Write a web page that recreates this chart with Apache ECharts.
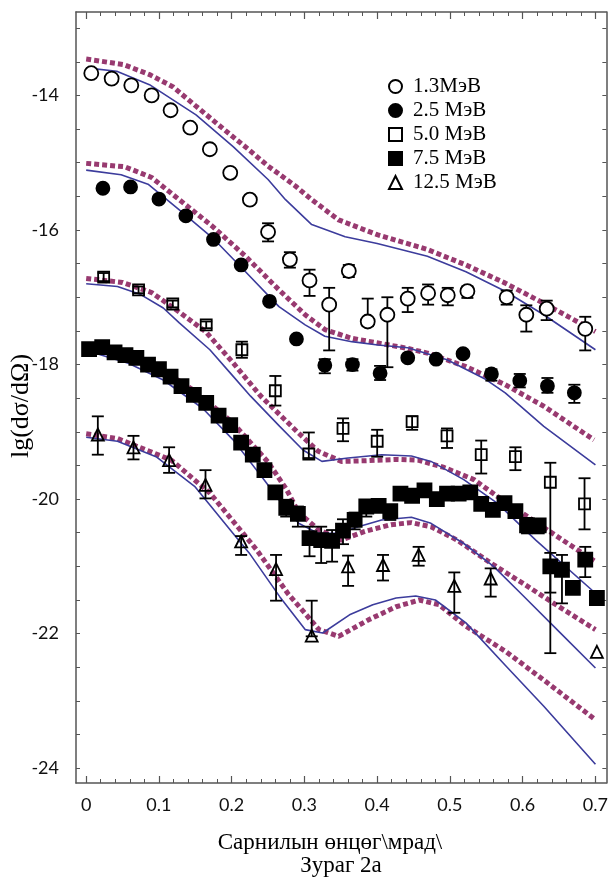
<!DOCTYPE html>
<html><head><meta charset="utf-8">
<script src="https://cdn.jsdelivr.net/npm/echarts@6/dist/echarts.min.js"></script>
<style>html,body{margin:0;padding:0;background:#fff}#c{width:611px;height:877px}</style>
</head><body><div id="c"></div>
<script>
// ---- axis ranges & tick labels ----
const X_MIN = -0.014, X_MAX = 0.715;
const Y_MIN = -24.22, Y_MAX = -12.76;
const xTickLabels = [0, 0.1, 0.2, 0.3, 0.4, 0.5, 0.6, 0.7];
const yTickLabels = [-24, -22, -20, -18, -16, -14];

// ---- legend names ----
const names = ['1.3МэВ', '2.5 МэВ', '5.0 МэВ', '7.5 МэВ', '12.5 МэВ'];

// ---- 1.3 MeV (open circles) ----
const x13 = [0.007,0.035,0.062,0.090,0.116,0.143,0.170,0.198,0.225,0.250,0.280,0.307,0.334,0.361,0.387,0.414,0.442,0.470,0.497,0.524,0.578,0.605,0.633,0.686];
const y13 = [-13.67,-13.75,-13.85,-14.00,-14.22,-14.48,-14.80,-15.15,-15.55,-16.03,-16.44,-16.75,-17.11,-16.61,-17.36,-17.26,-17.02,-16.94,-16.97,-16.91,-17.00,-17.26,-17.17,-17.47];
const hi13 = [-13.63,-13.71,-13.81,-13.96,-14.18,-14.44,-14.76,-15.11,-15.50,-15.90,-16.33,-16.59,-16.86,-16.52,-17.02,-17.00,-16.86,-16.81,-16.86,-16.84,-16.90,-17.12,-17.05,-17.29];
const lo13 = [-13.71,-13.79,-13.89,-14.04,-14.26,-14.52,-14.84,-15.19,-15.60,-16.17,-16.56,-16.98,-17.79,-16.70,-17.43,-18.04,-17.22,-17.11,-17.12,-17.01,-17.11,-17.51,-17.34,-17.79];

// ---- 2.5 MeV (filled circles) ----
const x25 = [0.023,0.061,0.100,0.137,0.175,0.213,0.252,0.289,0.328,0.366,0.404,0.442,0.481,0.518,0.557,0.596,0.634,0.671];
const y25 = [-15.38,-15.36,-15.54,-15.79,-16.14,-16.52,-17.06,-17.62,-18.01,-18.00,-18.13,-17.90,-17.92,-17.84,-18.14,-18.24,-18.32,-18.42];
const hi25 = [null,null,null,null,null,null,null,null,-17.92,-17.92,-18.02,null,null,null,-18.07,-18.14,-18.20,-18.30];
const lo25 = [null,null,null,null,null,null,null,null,-18.13,-18.09,-18.23,null,null,null,-18.24,-18.34,-18.42,-18.57];

// ---- 5.0 MeV (open squares) ----
const x50 = [0.024,0.072,0.119,0.165,0.214,0.260,0.306,0.353,0.400,0.448,0.496,0.543,0.590,0.638,0.685];
const y50 = [-16.70,-16.89,-17.10,-17.41,-17.78,-18.39,-19.33,-18.95,-19.14,-18.85,-19.06,-19.34,-19.37,-19.75,-20.07];
const hi50 = [-16.64,-16.84,-17.05,-17.36,-17.66,-18.17,-19.01,-18.80,-18.97,-18.77,-18.95,-19.13,-19.23,-19.46,-19.69];
const lo50 = [-16.76,-16.94,-17.15,-17.46,-17.90,-18.61,-19.39,-19.14,-19.37,-18.97,-19.24,-19.62,-19.57,-22.29,-20.45];

// ---- 7.5 MeV (filled squares) ----
const x75 = [0.004,0.022,0.039,0.054,0.069,0.085,0.100,0.116,0.131,0.148,0.165,0.182,0.198,0.213,0.229,0.245,0.260,0.275,0.291,0.307,0.323,0.338,0.353,0.369,0.385,0.402,0.418,0.432,0.448,0.465,0.482,0.496,0.512,0.528,0.543,0.559,0.575,0.590,0.606,0.622,0.638,0.654,0.669,0.686,0.702];
const y75 = [-17.77,-17.74,-17.82,-17.86,-17.90,-18.00,-18.07,-18.18,-18.32,-18.45,-18.57,-18.76,-18.90,-19.16,-19.34,-19.57,-19.90,-20.13,-20.22,-20.58,-20.61,-20.62,-20.47,-20.31,-20.11,-20.10,-20.18,-19.92,-19.95,-19.87,-20.00,-19.92,-19.92,-19.90,-20.07,-20.16,-20.06,-20.18,-20.39,-20.39,-21.00,-21.05,-21.32,-20.90,-21.47];
const hi75 = [null,null,null,null,null,null,null,null,null,null,null,null,null,null,null,null,null,-20.01,-20.11,-20.41,-20.41,-20.46,-20.30,-20.20,-20.06,-20.04,-20.13,null,null,null,null,null,null,null,null,null,null,-20.11,-20.28,-20.31,-20.80,-20.83,-21.25,-20.71,null];
const lo75 = [null,null,null,null,null,null,null,null,null,null,null,null,null,null,null,null,null,-20.26,-20.41,-20.85,-20.95,-20.93,-20.67,-20.45,-20.26,-20.16,-20.31,null,null,null,null,null,null,null,null,null,null,-20.26,-20.51,-20.51,-21.39,-21.55,-21.40,-21.16,null];

// ---- 12.5 MeV (open triangles) ----
const x125 = [0.016,0.065,0.114,0.164,0.213,0.261,0.310,0.360,0.408,0.457,0.506,0.556,0.702];
const y125 = [-19.04,-19.23,-19.42,-19.79,-20.63,-21.04,-22.03,-21.00,-20.98,-20.83,-21.29,-21.18,-22.27];
const hi125 = [-18.77,-19.06,-19.23,-19.57,-20.55,-20.83,-21.51,-20.84,-20.83,-20.71,-21.09,-21.03,null];
const lo125 = [-19.34,-19.41,-19.61,-19.99,-20.83,-21.51,-22.04,-21.29,-21.21,-20.99,-21.69,-21.45,null];

// ---- theory curves: blue solid ----
const blueA_x = [0,0.042,0.087,0.151,0.202,0.25,0.274,0.310,0.356,0.40,0.469,0.522,0.576,0.629,0.700];
const blueA_y = [-13.59,-13.64,-13.84,-14.29,-14.76,-15.25,-15.55,-15.92,-16.10,-16.20,-16.39,-16.62,-16.91,-17.26,-17.78];
const blueB_x = [0,0.048,0.085,0.128,0.174,0.219,0.265,0.301,0.328,0.365,0.401,0.442,0.496,0.549,0.576,0.629,0.700];
const blueB_y = [-15.11,-15.18,-15.32,-15.70,-16.12,-16.62,-17.14,-17.41,-17.58,-17.66,-17.71,-17.75,-17.93,-18.22,-18.42,-18.92,-19.49];
const blueC_x = [0,0.043,0.075,0.106,0.128,0.170,0.200,0.226,0.266,0.298,0.324,0.360,0.406,0.447,0.474,0.519,0.565,0.618,0.700];
const blueC_y = [-16.80,-16.84,-16.96,-17.16,-17.38,-17.78,-18.15,-18.47,-18.92,-19.27,-19.44,-19.39,-19.34,-19.36,-19.44,-19.71,-20.06,-20.61,-21.40];
const blueD_x = [0,0.058,0.106,0.160,0.202,0.245,0.270,0.292,0.319,0.347,0.374,0.406,0.447,0.474,0.519,0.560,0.60,0.65,0.700];
const blueD_y = [-17.79,-17.98,-18.23,-18.65,-19.12,-19.72,-20.08,-20.36,-20.51,-20.51,-20.41,-20.31,-20.27,-20.36,-20.66,-21.00,-21.43,-21.97,-22.51];
const blueE_x = [0,0.043,0.096,0.149,0.202,0.224,0.266,0.301,0.325,0.362,0.394,0.426,0.453,0.480,0.522,0.576,0.629,0.700];
const blueE_y = [-19.08,-19.14,-19.37,-19.81,-20.51,-20.80,-21.45,-21.94,-21.99,-21.72,-21.57,-21.47,-21.44,-21.50,-21.84,-22.47,-23.08,-23.94];

// ---- theory curves: purple dashed ----
const purA_x = [0,0.051,0.087,0.119,0.151,0.20,0.224,0.25,0.288,0.310,0.347,0.40,0.469,0.522,0.576,0.629,0.700];
const purA_y = [-13.46,-13.54,-13.69,-13.87,-14.16,-14.60,-14.81,-15.05,-15.35,-15.55,-15.85,-16.07,-16.29,-16.52,-16.79,-17.09,-17.51];
const purB_x = [0,0.053,0.09,0.128,0.174,0.219,0.265,0.301,0.328,0.365,0.401,0.442,0.469,0.522,0.576,0.629,0.698];
const purB_y = [-15.01,-15.06,-15.22,-15.55,-15.95,-16.39,-16.89,-17.26,-17.48,-17.61,-17.68,-17.76,-17.83,-18.03,-18.30,-18.62,-19.12];
const purC_x = [0,0.05,0.09,0.128,0.165,0.20,0.24,0.292,0.319,0.351,0.383,0.428,0.456,0.492,0.533,0.565,0.655,0.700];
const purC_y = [-16.72,-16.78,-16.93,-17.22,-17.52,-17.95,-18.47,-19.02,-19.29,-19.44,-19.43,-19.41,-19.42,-19.53,-19.71,-19.96,-20.61,-20.93];
const purD_x = [0,0.05,0.10,0.15,0.20,0.25,0.275,0.292,0.319,0.351,0.383,0.419,0.447,0.474,0.510,0.556,0.60,0.65,0.700];
const purD_y = [-17.72,-17.82,-18.05,-18.40,-18.85,-19.45,-19.85,-20.20,-20.45,-20.61,-20.48,-20.38,-20.35,-20.41,-20.61,-20.95,-21.25,-21.60,-21.94];
const purE_x = [0,0.043,0.117,0.170,0.234,0.277,0.320,0.347,0.389,0.426,0.458,0.485,0.522,0.576,0.629,0.700];
const purE_y = [-19.03,-19.10,-19.42,-19.91,-20.75,-21.40,-21.94,-22.04,-21.79,-21.60,-21.50,-21.57,-21.89,-22.26,-22.69,-23.28];

// ---- build helpers ----
const xMinorTicks = []; for (let i = 0; i <= 35; i++) xMinorTicks.push(+(i * 0.02).toFixed(2));
const yMinorTicks = []; for (let v = -24; v <= -13; v += 0.5) yMinorTicks.push(v);
const pairs = (xs, ys) => xs.map((v, i) => [v, ys[i]]);

const BLUE = '#3c3c9c', PURPLE = '#983a70';
function curve(xs, ys, dashed) {
  return {
    type: 'line', data: pairs(xs, ys), symbol: 'none', silent: true, z: dashed ? 2 : 3,
    lineStyle: dashed ? { color: PURPLE, width: 5, type: [5, 3] } : { color: BLUE, width: 1.6 },
    xAxisIndex: 0, yAxisIndex: 0
  };
}
function errBars(xs, his, los) {
  const data = [];
  xs.forEach((v, i) => { if (his[i] != null) data.push([v, los[i], his[i]]); });
  return {
    type: 'custom', silent: true, z: 4, xAxisIndex: 0, yAxisIndex: 0,
    encode: { x: 0, y: [1, 2] }, data,
    renderItem: (params, api) => {
      const x = api.value(0);
      const a = api.coord([x, api.value(1)]);
      const b = api.coord([x, api.value(2)]);
      const w = 6, st = { stroke: '#000', lineWidth: 1.8 };
      return { type: 'group', children: [
        { type: 'line', shape: { x1: a[0], y1: a[1], x2: b[0], y2: b[1] }, style: st },
        { type: 'line', shape: { x1: a[0] - w, y1: a[1], x2: a[0] + w, y2: a[1] }, style: st },
        { type: 'line', shape: { x1: b[0] - w, y1: b[1], x2: b[0] + w, y2: b[1] }, style: st }
      ]};
    }
  };
}
function marks(name, xs, ys, symbol, size, fill, zz) {
  return {
    type: 'scatter', name, data: pairs(xs, ys), symbol, symbolSize: size, z: zz,
    itemStyle: { color: fill, borderColor: '#000', borderWidth: 1.8, opacity: 1 },
    emphasis: { disabled: true }, xAxisIndex: 0, yAxisIndex: 0
  };
}

const axCol = '#555';
const xBase = { type: 'value', min: X_MIN, max: X_MAX, splitLine: { show: false } };
const yBase = { type: 'value', min: Y_MIN, max: Y_MAX, splitLine: { show: false } };

const option = {
  animation: false,
  backgroundColor: '#fff',
  grid: { left: 76, right: 1, top: 12, bottom: 94, containLabel: false },
  xAxis: [
    Object.assign({}, xBase, { position: 'bottom',
      axisLine: { show: true, onZero: false, lineStyle: { color: axCol, width: 1.5 } },
      axisTick: { show: true, inside: true, length: 7, customValues: xTickLabels, lineStyle: { color: axCol, width: 1.2 } },
      axisLabel: { show: true, customValues: xTickLabels, margin: 13, fontFamily: 'Lato', fontSize: 18, color: '#111',
        formatter: v => (Math.abs(v) < 1e-9 ? '0' : String(+(+v).toFixed(1))) } }),
    Object.assign({}, xBase, { position: 'bottom',
      axisLine: { show: false, onZero: false },
      axisTick: { show: true, inside: true, length: 4, customValues: xMinorTicks, lineStyle: { color: axCol, width: 1 } },
      axisLabel: { show: false } }),
    Object.assign({}, xBase, { position: 'top',
      axisLine: { show: true, onZero: false, lineStyle: { color: axCol, width: 1.5 } },
      axisTick: { show: true, inside: true, length: 7, customValues: xTickLabels, lineStyle: { color: axCol, width: 1.2 } },
      axisLabel: { show: false } }),
    Object.assign({}, xBase, { position: 'top',
      axisLine: { show: false, onZero: false },
      axisTick: { show: true, inside: true, length: 4, customValues: xMinorTicks, lineStyle: { color: axCol, width: 1 } },
      axisLabel: { show: false } })
  ],
  yAxis: [
    Object.assign({}, yBase, { position: 'left',
      axisLine: { show: true, onZero: false, lineStyle: { color: axCol, width: 1.5 } },
      axisTick: { show: true, inside: true, length: 4, customValues: yMinorTicks, lineStyle: { color: axCol, width: 1 } },
      axisLabel: { show: true, customValues: yTickLabels, margin: 17, fontFamily: 'Lato', fontSize: 18, color: '#111',
        formatter: v => String(Math.round(v)) } }),
    Object.assign({}, yBase, { position: 'right',
      axisLine: { show: true, onZero: false, lineStyle: { color: axCol, width: 1.5 } },
      axisTick: { show: true, inside: true, length: 4, customValues: yMinorTicks, lineStyle: { color: axCol, width: 1 } },
      axisLabel: { show: false } })
  ],
  legend: {
    orient: 'vertical', left: 383, top: 71, itemWidth: 13, itemHeight: 13, itemGap: 3,
    textStyle: { fontFamily: 'Liberation Serif', fontSize: 21, lineHeight: 19, color: '#000', padding: [0, 0, 0, 6] },
    data: names, selectedMode: false
  },
  graphic: [
    { type: 'text', style: { text: 'Сарнилын өнцөг\\мрад\\', font: '23px "Liberation Serif"', fill: '#000', textAlign: 'center', textVerticalAlign: 'middle' }, x: 330, y: 843 },
    { type: 'text', style: { text: 'Зураг 2а', font: '23px "Liberation Serif"', fill: '#000', textAlign: 'center', textVerticalAlign: 'middle' }, x: 341, y: 866 },
    { type: 'text', style: { text: 'lg(dσ/dΩ)', font: '26px "Liberation Serif"', fill: '#000', textAlign: 'center', textVerticalAlign: 'middle' },
      x: 21, y: 406, rotation: Math.PI / 2 }
  ],
  series: [
    curve(purA_x, purA_y, true), curve(blueA_x, blueA_y, false),
    curve(purB_x, purB_y, true), curve(blueB_x, blueB_y, false),
    curve(purC_x, purC_y, true), curve(blueC_x, blueC_y, false),
    curve(purD_x, purD_y, true), curve(blueD_x, blueD_y, false),
    curve(purE_x, purE_y, true), curve(blueE_x, blueE_y, false),
    errBars(x13, hi13, lo13), errBars(x25, hi25, lo25), errBars(x50, hi50, lo50), errBars(x75, hi75, lo75), errBars(x125, hi125, lo125),
    marks(names[0], x13, y13, 'circle', 14, '#fff', 5),
    marks(names[1], x25, y25, 'circle', 13, '#000', 5),
    marks(names[2], x50, y50, 'rect', 11, 'rgba(255,255,255,0)', 5),
    marks(names[3], x75, y75, 'rect', 14, '#000', 5),
    marks(names[4], x125, y125, 'triangle', 12, 'rgba(255,255,255,0)', 5)
  ]
};
const chart = echarts.init(document.getElementById('c'), null, { renderer: 'canvas' });
chart.setOption(option);
</script></body></html>
